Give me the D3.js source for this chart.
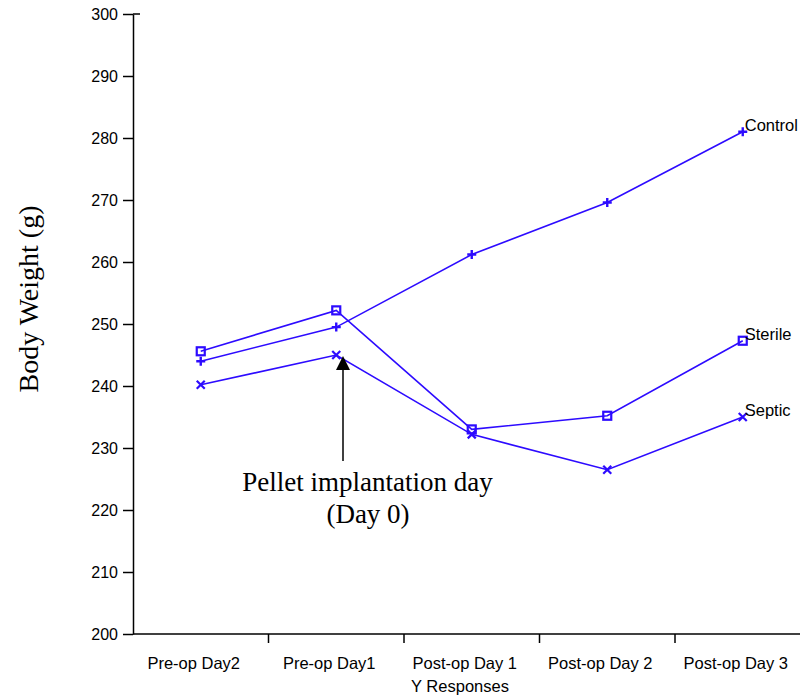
<!DOCTYPE html>
<html>
<head>
<meta charset="utf-8">
<script src="https://cdn.jsdelivr.net/npm/d3@7"></script>
<style>
  html, body { margin: 0; padding: 0; background: #fff; }
  svg { display: block; }
</style>
</head>
<body>
<svg id="chart" width="800" height="696"></svg>
<script>
// Body weight by day, three treatment groups
const days = ["Pre-op Day2", "Pre-op Day1", "Post-op Day 1", "Post-op Day 2", "Post-op Day 3"];
const control = [244.0, 249.5, 261.2, 269.6, 281.0];
const sterile = [245.6, 252.2, 233.0, 235.2, 247.3];
const septic  = [240.2, 245.0, 232.2, 226.5, 235.0];
const yTicks = [200, 210, 220, 230, 240, 250, 260, 270, 280, 290, 300];

const series = [
  { name: "Control", values: control, marker: "plus" },
  { name: "Sterile", values: sterile, marker: "square" },
  { name: "Septic",  values: septic,  marker: "cross" }
];

const blue = "#2d0bff";
const sans = "Liberation Sans, Arial, sans-serif";
const serif = "Liberation Serif, Times New Roman, serif";
const svg = d3.select("#chart");
const plotLeft = 133, plotRight = 810, plotTop = 14, plotBottom = 634;

const x = d3.scaleBand().domain(days).range([plotLeft, plotLeft + 135.5 * 5]).padding(0);
const y = d3.scaleLinear().domain([200, 300]).range([plotBottom, plotTop]);

// y axis
const yAxis = svg.append("g").attr("transform", `translate(${plotLeft},0)`)
  .call(d3.axisLeft(y).tickValues(yTicks).tickSize(10).tickSizeOuter(0).tickPadding(5));
yAxis.select(".domain").attr("stroke", "#000").attr("stroke-width", 1.5);
yAxis.selectAll(".tick line").attr("stroke", "#000").attr("stroke-width", 1.5);
yAxis.selectAll(".tick text").attr("font-family", sans)
  .attr("font-size", 16).attr("fill", "#000");
// cap at the top of the y axis
svg.append("line").attr("x1", plotLeft).attr("x2", plotLeft + 7)
  .attr("y1", y(300)).attr("y2", y(300)).attr("stroke", "#000").attr("stroke-width", 1.5);

// x axis with ticks on band boundaries
svg.append("line").attr("x1", plotLeft).attr("x2", plotRight).attr("y1", plotBottom).attr("y2", plotBottom)
  .attr("stroke", "#000").attr("stroke-width", 1.5);
days.slice(1).forEach(d => {
  svg.append("line").attr("x1", x(d)).attr("x2", x(d))
    .attr("y1", plotBottom).attr("y2", plotBottom + 9).attr("stroke", "#000").attr("stroke-width", 1.5);
});
// category labels sit slightly left of each band centre
svg.append("g").selectAll("text").data(days).join("text")
  .attr("x", d => x(d) + x.bandwidth() / 2 - 7).attr("y", plotBottom + 35)
  .attr("text-anchor", "middle")
  .attr("font-family", sans).attr("font-size", 16.5)
  .text(d => d);

svg.append("text").attr("x", 460).attr("y", 692).attr("text-anchor", "middle")
  .attr("font-family", sans).attr("font-size", 16.5)
  .text("Y Responses");

svg.append("text")
  .attr("transform", `translate(38,299) rotate(-90)`)
  .attr("text-anchor", "middle")
  .attr("font-family", serif).attr("font-size", 28)
  .text("Body Weight (g)");

// lines and markers
const cx = d => x(d) + x.bandwidth() / 2;
const line = d3.line().x((v, i) => cx(days[i])).y(v => y(v));

series.forEach(s => {
  svg.append("path").attr("d", line(s.values)).attr("fill", "none")
    .attr("stroke", blue).attr("stroke-width", 1.6);
  const g = svg.append("g");
  s.values.forEach((v, i) => {
    const px = cx(days[i]), py = y(v);
    if (s.marker === "plus") {
      g.append("path").attr("d", `M${px - 4.5},${py}H${px + 4.5}M${px},${py - 4.5}V${py + 4.5}`)
        .attr("stroke", blue).attr("stroke-width", 2.4);
    } else if (s.marker === "cross") {
      g.append("path").attr("d", `M${px - 4},${py - 4}L${px + 4},${py + 4}M${px - 4},${py + 4}L${px + 4},${py - 4}`)
        .attr("stroke", blue).attr("stroke-width", 2.2);
    } else {
      g.append("rect").attr("x", px - 4).attr("y", py - 4).attr("width", 8).attr("height", 8)
        .attr("fill", "none").attr("stroke", blue).attr("stroke-width", 2.2);
    }
  });
  const last = s.values.length - 1;
  svg.append("text").attr("x", cx(days[last]) + 2).attr("y", y(s.values[last]) - 1)
    .attr("font-family", sans).attr("font-size", 16.5)
    .text(s.name);
});

// annotation: pellet implantation
const ax = 343;
svg.append("line").attr("x1", ax).attr("x2", ax).attr("y1", 461).attr("y2", 368)
  .attr("stroke", "#000").attr("stroke-width", 1.5);
svg.append("path").attr("d", `M${ax},356L${ax - 7},370L${ax + 7},370Z`).attr("fill", "#000");
svg.append("text").attr("x", 367.5).attr("y", 491).attr("text-anchor", "middle")
  .attr("font-family", serif).attr("font-size", 27)
  .text("Pellet implantation day");
svg.append("text").attr("x", 368).attr("y", 523).attr("text-anchor", "middle")
  .attr("font-family", serif).attr("font-size", 27)
  .text("(Day 0)");
</script>
</body>
</html>
